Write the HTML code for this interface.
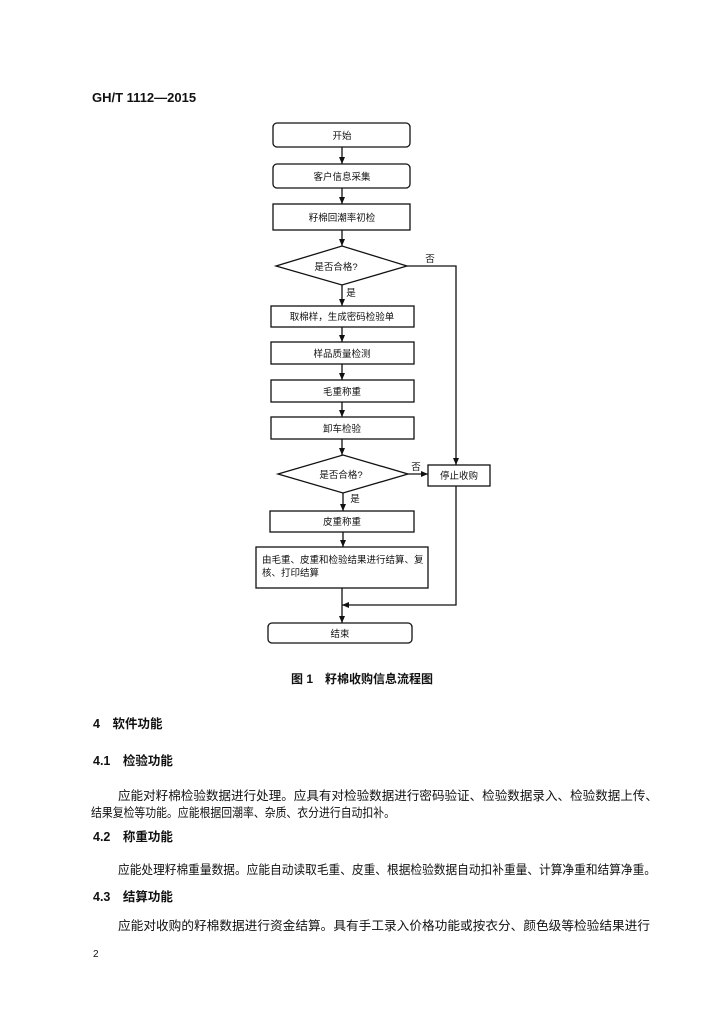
<!DOCTYPE html>
<html><head><meta charset="utf-8"><style>
html,body{margin:0;padding:0;background:#fff}
svg{display:block}
text{font-family:"Liberation Sans","Noto Sans CJK SC",sans-serif;fill:#111}
.b{font-weight:bold}
</style></head><body>
<svg width="724" height="1024" viewBox="0 0 724 1024" xmlns="http://www.w3.org/2000/svg">
<defs><marker id="a" markerWidth="8" markerHeight="8" refX="7" refY="4" orient="auto" markerUnits="userSpaceOnUse"><path d="M0,1 L7,4 L0,7 Z" fill="#111"/></marker></defs>
<text x="92" y="102" class="b" font-size="13">GH/T 1112—2015</text>
<g stroke="#111" stroke-width="1.3" fill="none">
<rect x="273" y="123" width="137" height="24" rx="4"/>
<rect x="273" y="164" width="137" height="24" rx="4"/>
<rect x="273" y="204" width="137" height="26"/>
<polygon points="276,266 342,246 407,266 342,285"/>
<rect x="271" y="306" width="143" height="21"/>
<rect x="271" y="342" width="143" height="22"/>
<rect x="271" y="380" width="143" height="22"/>
<rect x="271" y="417" width="143" height="22"/>
<polygon points="278,474 343,455 408,474 343,493"/>
<rect x="428" y="465" width="62" height="21"/>
<rect x="270" y="511" width="144" height="21"/>
<rect x="256" y="547" width="172" height="41"/>
<rect x="268" y="623" width="144" height="20" rx="4"/>
<g marker-end="url(#a)">
<line x1="342" y1="147" x2="342" y2="164"/>
<line x1="342" y1="188" x2="342" y2="204"/>
<line x1="342" y1="230" x2="342" y2="246"/>
<line x1="342" y1="285" x2="342" y2="306"/>
<line x1="342" y1="327" x2="342" y2="342"/>
<line x1="342" y1="364" x2="342" y2="380"/>
<line x1="342" y1="402" x2="342" y2="417"/>
<line x1="342" y1="439" x2="342" y2="455"/>
<line x1="343" y1="493" x2="343" y2="511"/>
<line x1="343" y1="532" x2="343" y2="547"/>
<line x1="342" y1="588" x2="342" y2="623"/>
<line x1="408" y1="474" x2="428" y2="474"/>
<polyline points="407,266 456,266 456,465"/>
<polyline points="456,486 456,605 342,605"/>
</g></g>
<g font-size="9.5" text-anchor="middle">
<text x="342" y="139">开始</text>
<text x="342" y="180">客户信息采集</text>
<text x="342" y="221">籽棉回潮率初检</text>
<text x="336" y="270">是否合格?</text>
<text x="342" y="320">取棉样，生成密码检验单</text>
<text x="342" y="357">样品质量检测</text>
<text x="342" y="395">毛重称重</text>
<text x="342" y="432">卸车检验</text>
<text x="341" y="478">是否合格?</text>
<text x="459" y="479">停止收购</text>
<text x="342" y="525">皮重称重</text>
<text x="340" y="637">结束</text>
<text x="430" y="262">否</text>
<text x="351" y="296">是</text>
<text x="416" y="470">否</text>
<text x="355" y="502">是</text>
</g>
<g font-size="9.5">
<text x="262" y="563">由毛重、皮重和检验结果进行结算、复</text>
<text x="262" y="576">核、打印结算</text>
</g>
<text x="362" y="683" class="b" font-size="12" text-anchor="middle">图 1　籽棉收购信息流程图</text>
<g font-size="12.5">
<text x="93" y="728" class="b">4　软件功能</text>
<text x="93" y="765" class="b">4.1　检验功能</text>
<text x="118" y="800" textLength="540" lengthAdjust="spacingAndGlyphs">应能对籽棉检验数据进行处理。应具有对检验数据进行密码验证、检验数据录入、检验数据上传、</text>
<text x="91" y="817" textLength="304" lengthAdjust="spacingAndGlyphs">结果复检等功能。应能根据回潮率、杂质、衣分进行自动扣补。</text>
<text x="93" y="841" class="b">4.2　称重功能</text>
<text x="118" y="874" textLength="538" lengthAdjust="spacingAndGlyphs">应能处理籽棉重量数据。应能自动读取毛重、皮重、根据检验数据自动扣补重量、计算净重和结算净重。</text>
<text x="93" y="901" class="b">4.3　结算功能</text>
<text x="118" y="930" textLength="532" lengthAdjust="spacingAndGlyphs">应能对收购的籽棉数据进行资金结算。具有手工录入价格功能或按衣分、颜色级等检验结果进行</text>
<text x="93" y="957" font-size="10">2</text>
</g>
</svg>
</body></html>
